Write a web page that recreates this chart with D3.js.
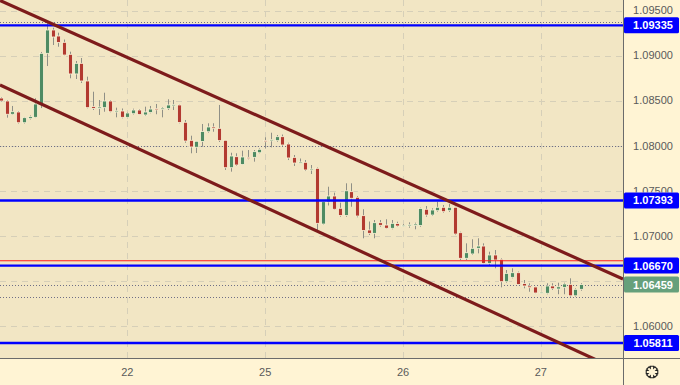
<!DOCTYPE html>
<html>
<head>
<meta charset="utf-8">
<script src="https://cdn.jsdelivr.net/npm/d3@7/dist/d3.min.js"></script>
<style>
  html, body { margin: 0; padding: 0; background: #fff4d4; }
  svg { display: block; }
</style>
</head>
<body>
<svg id="chart" width="680" height="385"></svg>
<script>
// ---- data (EUR/USD, hourly candles, 21–27 Apr) ----
const open  = [1.08529,1.08496,1.08349,1.08374,1.08255,1.08300,1.08315,1.08463,1.09025,1.09284,1.09217,1.09147,1.09014,1.08796,1.08914,1.08718,1.08433,1.08413,1.08422,1.08496,1.08380,1.08385,1.08315,1.08355,1.08396,1.08341,1.08368,1.08411,1.08404,1.08411,1.08448,1.08452,1.08260,1.08060,1.07983,1.08047,1.08155,1.08208,1.08193,1.08060,1.07756,1.07878,1.07792,1.07871,1.07871,1.07922,1.08058,1.08058,1.08056,1.08100,1.08019,1.07871,1.07816,1.07816,1.07731,1.07749,1.07131,1.07376,1.07442,1.07306,1.07226,1.07490,1.07428,1.07224,1.07065,1.07028,1.07146,1.07120,1.07084,1.07137,1.07109,1.07117,1.07115,1.07115,1.07295,1.07231,1.07279,1.07317,1.07279,1.07317,1.07035,1.06751,1.06799,1.06862,1.06887,1.06695,1.06788,1.06740,1.06491,1.06540,1.06591,1.06471,1.06444,1.06433,1.06366,1.06363,1.06444,1.06410,1.06429,1.06462,1.06335,1.06407];
const high  = [1.08540,1.08507,1.08441,1.08385,1.08319,1.08335,1.08526,1.09040,1.09372,1.09309,1.09254,1.09178,1.09043,1.08940,1.08973,1.08766,1.08599,1.08507,1.08588,1.08507,1.08422,1.08413,1.08374,1.08411,1.08407,1.08433,1.08441,1.08463,1.08429,1.08515,1.08507,1.08457,1.08285,1.08111,1.08052,1.08241,1.08249,1.08249,1.08452,1.08063,1.07922,1.07916,1.07945,1.07952,1.07952,1.07971,1.08093,1.08144,1.08119,1.08124,1.08033,1.07897,1.07858,1.07841,1.07786,1.07758,1.07390,1.07545,1.07479,1.07368,1.07583,1.07583,1.07442,1.07295,1.07159,1.07176,1.07176,1.07184,1.07176,1.07157,1.07131,1.07150,1.07146,1.07312,1.07331,1.07306,1.07379,1.07342,1.07353,1.07323,1.07046,1.06917,1.06962,1.06973,1.06917,1.06824,1.06843,1.06751,1.06621,1.06640,1.06604,1.06510,1.06474,1.06436,1.06377,1.06474,1.06474,1.06480,1.06480,1.06529,1.06418,1.06474];
const low   = [1.08485,1.08311,1.08341,1.08246,1.08246,1.08291,1.08307,1.08418,1.08884,1.09117,1.09098,1.09001,1.08748,1.08740,1.08696,1.08415,1.08396,1.08341,1.08377,1.08371,1.08315,1.08304,1.08304,1.08346,1.08341,1.08330,1.08360,1.08349,1.08315,1.08396,1.08396,1.08249,1.08033,1.07916,1.07919,1.07989,1.08144,1.08155,1.08041,1.07731,1.07712,1.07775,1.07786,1.07849,1.07823,1.07916,1.07971,1.07982,1.08044,1.07997,1.07841,1.07775,1.07808,1.07719,1.07686,1.07065,1.07124,1.07337,1.07287,1.07212,1.07212,1.07323,1.07206,1.06973,1.07009,1.06973,1.07101,1.07076,1.07073,1.07101,1.07098,1.07090,1.07073,1.07101,1.07212,1.07220,1.07268,1.07257,1.07265,1.07009,1.06732,1.06732,1.06788,1.06806,1.06688,1.06677,1.06640,1.06429,1.06480,1.06529,1.06455,1.06418,1.06380,1.06363,1.06360,1.06352,1.06399,1.06352,1.06352,1.06325,1.06325,1.06391];
const close = [1.08496,1.08349,1.08377,1.08255,1.08311,1.08322,1.08463,1.09025,1.09284,1.09206,1.09145,1.09006,1.08796,1.08914,1.08718,1.08422,1.08413,1.08429,1.08496,1.08377,1.08387,1.08315,1.08363,1.08396,1.08346,1.08374,1.08407,1.08401,1.08418,1.08452,1.08455,1.08258,1.08052,1.07986,1.08049,1.08158,1.08208,1.08193,1.08056,1.07756,1.07886,1.07786,1.07875,1.07856,1.07934,1.07960,1.08044,1.08067,1.08100,1.08008,1.07864,1.07808,1.07819,1.07731,1.07742,1.07139,1.07379,1.07442,1.07295,1.07226,1.07500,1.07417,1.07220,1.07059,1.07028,1.07146,1.07117,1.07084,1.07139,1.07109,1.07117,1.07123,1.07131,1.07303,1.07231,1.07287,1.07317,1.07268,1.07317,1.07020,1.06751,1.06813,1.06862,1.06887,1.06695,1.06788,1.06732,1.06491,1.06584,1.06591,1.06460,1.06444,1.06425,1.06366,1.06374,1.06444,1.06413,1.06435,1.06466,1.06335,1.06407,1.06459];

const priceTicks = [1.060, 1.065, 1.070, 1.075, 1.080, 1.085, 1.090, 1.095];
const dayTickIndex = [22, 46, 70, 94];
const dayTickLabels = ["22", "25", "26", "27"];

const blueLevels = [1.09335, 1.07393, 1.06670, 1.05811];
const redLevels = [1.06724];
const dottedLevels = [1.09372, 1.08000, 1.06325];
const lastPrice = 1.06459;

// channel lines: [candle index, price]
const channelUpper = [[-0.17, 1.09611], [108.3, 1.06521]];
const channelLower = [[-0.17, 1.08674], [106, 1.05555]];

// ---- layout ----
const W = 680, H = 385;
const plotW = 623, plotH = 358;

const svg = d3.select("#chart");
const x = d3.scaleLinear().domain([-0.17, 108.3]).range([0, plotW]);
const y = d3.scaleLinear().domain([1.056449, 1.096165]).range([plotH, 0]);

const candles = open.map((o, i) => ({ i, o, h: high[i], l: low[i], c: close[i] }));

// backgrounds
svg.append("rect").attr("width", W).attr("height", H).attr("fill", "#fff4d4");
svg.append("rect").attr("width", plotW).attr("height", plotH).attr("fill", "#f2e6c4");

const defs = svg.append("defs");
defs.append("clipPath").attr("id", "plotClip")
  .append("rect").attr("width", plotW).attr("height", plotH);

const plot = svg.append("g").attr("clip-path", "url(#plotClip)");

// grid
plot.append("g").selectAll("line").data(priceTicks).join("line")
  .attr("x1", 0).attr("x2", plotW)
  .attr("y1", d => Math.round(y(d)) + 0.5).attr("y2", d => Math.round(y(d)) + 0.5)
  .attr("stroke", "#d6cfb8").attr("stroke-width", 1).attr("stroke-dasharray", "6,5");
plot.append("g").selectAll("line").data(dayTickIndex).join("line")
  .attr("y1", 0).attr("y2", plotH)
  .attr("x1", d => Math.round(x(d)) + 0.5).attr("x2", d => Math.round(x(d)) + 0.5)
  .attr("stroke", "#d6cfb8").attr("stroke-width", 1).attr("stroke-dasharray", "6,5");

// dotted lines (high / low / last)
plot.append("g").selectAll("line").data(dottedLevels.concat([lastPrice])).join("line")
  .attr("x1", 0).attr("x2", plotW)
  .attr("y1", d => Math.round(y(d)) + 0.5).attr("y2", d => Math.round(y(d)) + 0.5)
  .attr("stroke", "#6f6f86").attr("stroke-width", 1).attr("stroke-dasharray", "1,2");

// candles
const cg = plot.append("g");
const bw = 4;
cg.selectAll("line.wick").data(candles).join("line").attr("class", "wick")
  .attr("x1", d => Math.round(x(d.i)) + 0.5).attr("x2", d => Math.round(x(d.i)) + 0.5)
  .attr("y1", d => y(d.h)).attr("y2", d => y(d.l))
  .attr("stroke", "#8f8f86").attr("stroke-width", 1);
cg.selectAll("rect.body").data(candles).join("rect").attr("class", "body")
  .attr("x", d => Math.round(x(d.i)) + 0.5 - bw / 2)
  .attr("y", d => y(Math.max(d.o, d.c)))
  .attr("width", bw)
  .attr("height", d => Math.max(1.2, Math.abs(y(d.o) - y(d.c))))
  .attr("fill", d => d.c >= d.o ? "#4e8b63" : "#b23a30")
  .attr("stroke", "#fbf3d6").attr("stroke-width", 0.8);

// horizontal levels
plot.append("g").selectAll("line").data(redLevels).join("line")
  .attr("x1", 0).attr("x2", plotW)
  .attr("y1", d => y(d)).attr("y2", d => y(d))
  .attr("stroke", "#ff1a1a").attr("stroke-width", 1.2);
plot.append("g").selectAll("line").data(blueLevels).join("line")
  .attr("x1", 0).attr("x2", plotW)
  .attr("y1", d => y(d)).attr("y2", d => y(d))
  .attr("stroke", "#0000ff").attr("stroke-width", 2.4);

// channel lines
const line = d3.line().x(d => x(d[0])).y(d => y(d[1]));
plot.append("g").selectAll("path").data([channelUpper, channelLower]).join("path")
  .attr("d", line).attr("fill", "none")
  .attr("stroke", "#7d1b1b").attr("stroke-width", 3.2).attr("stroke-linecap", "butt");

// axes borders
svg.append("line").attr("x1", plotW + 0.5).attr("x2", plotW + 0.5).attr("y1", 0).attr("y2", H)
  .attr("stroke", "#6b6b6b").attr("stroke-width", 1);
svg.append("line").attr("x1", 0).attr("x2", W).attr("y1", plotH + 0.5).attr("y2", plotH + 0.5)
  .attr("stroke", "#6b6b6b").attr("stroke-width", 1);

const font = "'Liberation Sans', Arial, sans-serif";
const fmt = d3.format(".5f");

// price tick labels: those fully covered by a level label are not drawn,
// partially covered ones are clipped at the label's edge (as in the reference)
const labelLevels = blueLevels.concat([lastPrice]);
const labelH = 16;
priceTicks.forEach((t, k) => {
  const ty = y(t);
  const nearest = labelLevels.reduce((a, b) => Math.abs(y(b) - ty) < Math.abs(y(a) - ty) ? b : a);
  const dist = y(nearest) - ty;
  if (Math.abs(dist) < 6) return;
  const txt = svg.append("text")
    .attr("x", 653).attr("y", ty).attr("dy", "0.35em")
    .attr("text-anchor", "middle").attr("font-family", font).attr("font-size", 11)
    .attr("fill", "#5a5a5a").text(fmt(t));
  if (Math.abs(dist) < 14) {
    const id = "tclip" + k;
    const boxTop = y(nearest) - labelH / 2;
    const boxBot = y(nearest) + labelH / 2;
    const r = dist > 0 ? { y0: ty - 10, y1: boxTop } : { y0: boxBot, y1: ty + 10 };
    defs.append("clipPath").attr("id", id).append("rect")
      .attr("x", plotW + 1).attr("width", W - plotW).attr("y", r.y0).attr("height", r.y1 - r.y0);
    txt.attr("clip-path", `url(#${id})`);
  }
});

// level labels
function levelLabel(v, fill) {
  const g = svg.append("g");
  g.append("rect").attr("x", plotW + 1).attr("y", y(v) - labelH / 2).attr("width", 55).attr("height", labelH)
    .attr("rx", 1.5).attr("fill", fill);
  g.append("text").attr("x", 653).attr("y", y(v)).attr("dy", "0.36em")
    .attr("text-anchor", "middle").attr("font-family", font).attr("font-size", 11)
    .attr("font-weight", "bold").attr("fill", "#ffffff").text(fmt(v));
}
blueLevels.forEach(v => levelLabel(v, "#0000ff"));
levelLabel(lastPrice, "#66a07b");

// day labels
svg.append("g").selectAll("text").data(dayTickIndex).join("text")
  .attr("x", d => x(d)).attr("y", 372).attr("dy", "0.35em")
  .attr("text-anchor", "middle").attr("font-family", font).attr("font-size", 11)
  .attr("fill", "#5a5a5a").text((d, i) => dayTickLabels[i]);

// settings gear icon
const gear = svg.append("g").attr("transform", "translate(652,372)");
const teeth = d3.range(8).map(k => k * Math.PI / 4);
const pts = [];
teeth.forEach(a => {
  const s = 0.28;
  pts.push([Math.cos(a - s) * 6, Math.sin(a - s) * 6]);
  pts.push([Math.cos(a + s) * 6, Math.sin(a + s) * 6]);
  pts.push([Math.cos(a + Math.PI / 8) * 4.3, Math.sin(a + Math.PI / 8) * 4.3]);
});
gear.append("path").attr("d", d3.line().curve(d3.curveLinearClosed)(pts))
  .attr("fill", "none").attr("stroke", "#222").attr("stroke-width", 1.1);
</script>
</body>
</html>
